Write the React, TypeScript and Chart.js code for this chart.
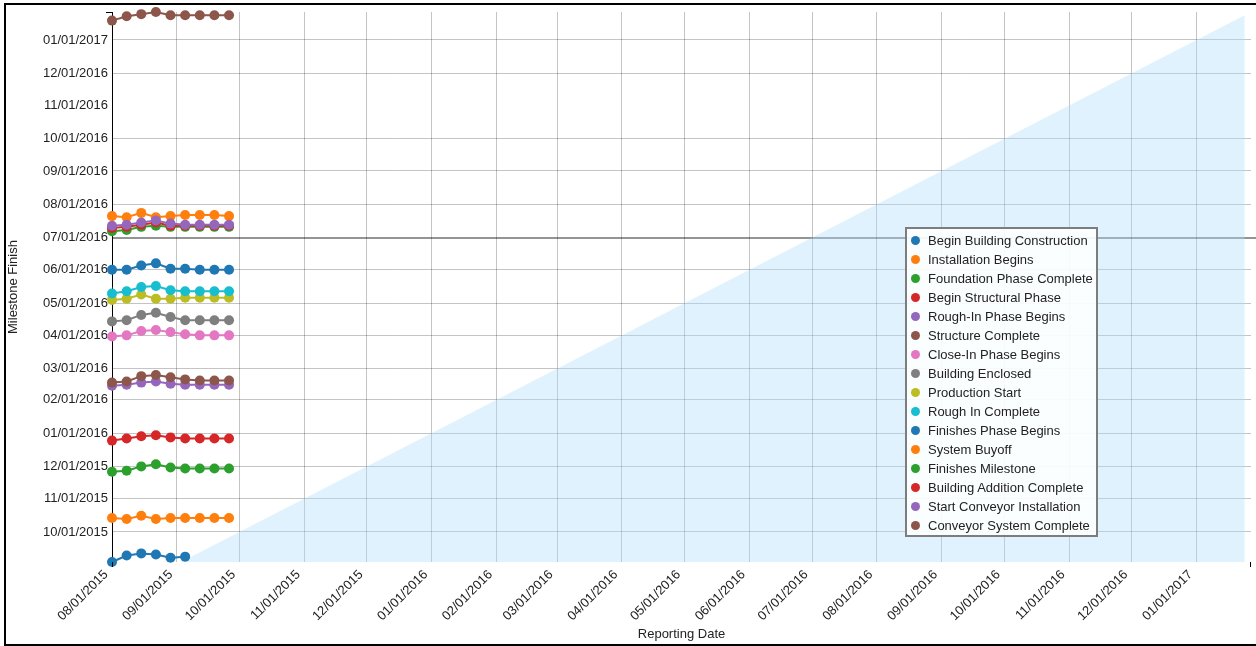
import React, { useEffect, useRef } from 'react';
import { Chart, registerables } from 'chart.js';

Chart.register(...registerables);

// ---------- data ----------
const reportingDates = [
  '2015-08-01', '2015-08-08', '2015-08-15', '2015-08-22', '2015-08-29',
  '2015-09-05', '2015-09-12', '2015-09-19', '2015-09-26',
];

const seriesNames = [
  'Begin Building Construction',
  'Installation Begins',
  'Foundation Phase Complete',
  'Begin Structural Phase',
  'Rough-In Phase Begins',
  'Structure Complete',
  'Close-In Phase Begins',
  'Building Enclosed',
  'Production Start',
  'Rough In Complete',
  'Finishes Phase Begins',
  'System Buyoff',
  'Finishes Milestone',
  'Building Addition Complete',
  'Start Conveyor Installation',
  'Conveyor System Complete',
];

const seriesColors = [
  '#1f77b4', '#ff7f0e', '#2ca02c', '#d62728', '#9467bd', '#8c564b', '#e377c2', '#7f7f7f',
  '#bcbd22', '#17becf', '#1f77b4', '#ff7f0e', '#2ca02c', '#d62728', '#9467bd', '#8c564b',
];

const beginBuildingConstruction = ['2015-09-03', '2015-09-09', '2015-09-11', '2015-09-10', '2015-09-07', '2015-09-08'];
const installationBegins = ['2015-10-14', '2015-10-13', '2015-10-16', '2015-10-13', '2015-10-14', '2015-10-14', '2015-10-14', '2015-10-14', '2015-10-14'];
const foundationPhaseComplete = ['2015-11-26', '2015-11-27', '2015-12-01', '2015-12-03', '2015-11-30', '2015-11-29', '2015-11-29', '2015-11-29', '2015-11-29'];
const beginStructuralPhase = ['2015-12-25', '2015-12-27', '2015-12-29', '2015-12-30', '2015-12-28', '2015-12-27', '2015-12-27', '2015-12-27', '2015-12-27'];
const roughInPhaseBegins = ['2016-02-14', '2016-02-15', '2016-02-17', '2016-02-18', '2016-02-16', '2016-02-15', '2016-02-15', '2016-02-15', '2016-02-15'];
const structureComplete = ['2016-02-17', '2016-02-18', '2016-02-23', '2016-02-24', '2016-02-22', '2016-02-20', '2016-02-19', '2016-02-19', '2016-02-19'];
const closeInPhaseBegins = ['2016-03-31', '2016-04-01', '2016-04-05', '2016-04-06', '2016-04-04', '2016-04-02', '2016-04-01', '2016-04-01', '2016-04-01'];
const buildingEnclosed = ['2016-04-14', '2016-04-15', '2016-04-20', '2016-04-22', '2016-04-18', '2016-04-15', '2016-04-15', '2016-04-15', '2016-04-15'];
const productionStart = ['2016-05-04', '2016-05-05', '2016-05-09', '2016-05-05', '2016-05-05', '2016-05-06', '2016-05-06', '2016-05-06', '2016-05-06'];
const roughInComplete = ['2016-05-10', '2016-05-12', '2016-05-16', '2016-05-17', '2016-05-13', '2016-05-12', '2016-05-12', '2016-05-12', '2016-05-12'];
const finishesPhaseBegins = ['2016-06-01', '2016-06-01', '2016-06-05', '2016-06-07', '2016-06-02', '2016-06-02', '2016-06-01', '2016-06-01', '2016-06-01'];
const systemBuyoff = ['2016-07-21', '2016-07-20', '2016-07-24', '2016-07-20', '2016-07-21', '2016-07-22', '2016-07-22', '2016-07-22', '2016-07-21'];
const finishesMilestone = ['2016-07-07', '2016-07-08', '2016-07-11', '2016-07-12', '2016-07-11', '2016-07-11', '2016-07-11', '2016-07-11', '2016-07-11'];
const buildingAdditionComplete = ['2016-07-10', '2016-07-11', '2016-07-13', '2016-07-15', '2016-07-12', '2016-07-12', '2016-07-12', '2016-07-12', '2016-07-12'];
const startConveyorInstallation = ['2016-07-12', '2016-07-13', '2016-07-15', '2016-07-17', '2016-07-14', '2016-07-13', '2016-07-13', '2016-07-13', '2016-07-13'];
const conveyorSystemComplete = ['2017-01-19', '2017-01-23', '2017-01-25', '2017-01-27', '2017-01-24', '2017-01-24', '2017-01-24', '2017-01-24', '2017-01-24'];

const seriesValues = [
  beginBuildingConstruction, installationBegins, foundationPhaseComplete, beginStructuralPhase,
  roughInPhaseBegins, structureComplete, closeInPhaseBegins, buildingEnclosed, productionStart,
  roughInComplete, finishesPhaseBegins, systemBuyoff, finishesMilestone, buildingAdditionComplete,
  startConveyorInstallation, conveyorSystemComplete,
];

// reporting date == milestone date reference line (shaded below)
const diagonalDates = ['2015-08-01', '2017-01-24'];

const monthTicks = [
  '2015-08-01', '2015-09-01', '2015-10-01', '2015-11-01', '2015-12-01', '2016-01-01',
  '2016-02-01', '2016-03-01', '2016-04-01', '2016-05-01', '2016-06-01', '2016-07-01',
  '2016-08-01', '2016-09-01', '2016-10-01', '2016-11-01', '2016-12-01', '2017-01-01',
];

const xMin = '2015-08-01';
const xMax = '2017-01-27';
const yMin = '2015-09-03';
const yMax = '2017-01-27';

// ---------- helpers ----------
const ms = (s: string) => Date.parse(s + 'T00:00:00Z');
const pad = (n: number) => (n < 10 ? '0' + n : '' + n);
const fmt = (v: number) => {
  const d = new Date(v);
  return pad(d.getUTCMonth() + 1) + '/' + pad(d.getUTCDate()) + '/' + d.getUTCFullYear();
};

const FONT = '"Liberation Sans", Arial, sans-serif';
const hiddenGridDate = '2016-11-01';
const darkGridDate = '2016-07-01';
const GRID = 'rgba(0,0,0,0.23)';
const DARK = 'rgba(0,0,0,0.42)';

export default function App() {
  const canvasRef = useRef<HTMLCanvasElement | null>(null);

  useEffect(() => {
    if (!canvasRef.current) return;
    const n = seriesNames.length;

    const yTickDates = monthTicks.filter((t) => ms(t) >= ms(yMin));
    const yGridColors = yTickDates.map((t) =>
      t === hiddenGridDate ? 'rgba(0,0,0,0)' : t === darkGridDate ? DARK : GRID
    );
    const yGridWidths = yTickDates.map((t) => (t === darkGridDate ? 2 : 1));

    const datasets: any[] = seriesNames.map((name, i) => ({
      type: 'line',
      label: name,
      data: seriesValues[i].map((v, j) => ({ x: ms(reportingDates[j]), y: ms(v) })),
      borderColor: seriesColors[i],
      backgroundColor: seriesColors[i],
      pointBackgroundColor: seriesColors[i],
      pointBorderColor: seriesColors[i],
      pointRadius: 5,
      pointBorderWidth: 0,
      borderWidth: 2,
      fill: false,
      tension: 0,
      clip: false,
      order: n - i,
    }));

    datasets.push({
      type: 'line',
      label: 'diagonal',
      data: diagonalDates.map((d) => ({ x: ms(d), y: ms(d) })),
      borderWidth: 0,
      borderColor: 'rgba(0,0,0,0)',
      backgroundColor: 'rgba(170,220,250,0.38)',
      pointRadius: 0,
      fill: 'start',
      order: n + 10,
    });

    const extras = {
      id: 'extras',
      afterDraw(chart: any) {
        const { ctx, chartArea } = chart;
        const ys = chart.scales.y;
        ctx.save();
        ctx.strokeStyle = '#000';
        ctx.lineWidth = 1;
        ctx.beginPath();
        // outer ticks
        ctx.moveTo(chartArea.left - 6, chartArea.top + 0.5);
        ctx.lineTo(chartArea.left, chartArea.top + 0.5);
        ctx.moveTo(chartArea.left + 0.5, chartArea.bottom);
        ctx.lineTo(chartArea.left + 0.5, chartArea.bottom + 5);
        ctx.moveTo(chartArea.right - 0.5, chartArea.bottom);
        ctx.lineTo(chartArea.right - 0.5, chartArea.bottom + 5);
        ctx.stroke();
        // darker July line running to the edge
        const yy = Math.round(ys.getPixelForValue(ms(darkGridDate)));
        ctx.strokeStyle = DARK;
        ctx.lineWidth = 2;
        ctx.beginPath();
        ctx.moveTo(chartArea.right, yy);
        ctx.lineTo(chart.width, yy);
        ctx.stroke();
        ctx.restore();
      },
    };

    const chart = new Chart(canvasRef.current, {
      type: 'line',
      data: { datasets },
      plugins: [extras],
      options: {
        animation: false,
        responsive: true,
        maintainAspectRatio: false,
        layout: { padding: { left: 6, top: 12, right: 3, bottom: 2 } },
        plugins: { legend: { display: false }, tooltip: { enabled: false } },
        font: { family: FONT },
        scales: {
          x: {
            type: 'linear',
            min: ms(xMin),
            max: ms(xMax),
            afterBuildTicks: (s: any) => {
              s.ticks = monthTicks.map((t) => ({ value: ms(t) }));
            },
            afterFit: (s: any) => {
              s.height = 82;
            },
            ticks: {
              autoSkip: false,
              minRotation: 45,
              maxRotation: 45,
              padding: 5,
              labelOffset: -6,
              color: '#222',
              font: { family: FONT, size: 13 },
              callback: (v: any) => fmt(Number(v)),
            },
            grid: { color: GRID, drawTicks: false, lineWidth: 1 },
            border: { display: false },
            title: {
              display: true,
              text: 'Reporting Date',
              color: '#222',
              font: { family: FONT, size: 13 },
              padding: { top: 2, bottom: 2 },
            },
          },
          y: {
            type: 'linear',
            min: ms(yMin),
            max: ms(yMax),
            afterBuildTicks: (s: any) => {
              s.ticks = yTickDates.map((t) => ({ value: ms(t) }));
            },
            afterFit: (s: any) => {
              s.width = 106;
            },
            ticks: {
              autoSkip: false,
              padding: 4,
              color: '#222',
              font: { family: FONT, size: 13 },
              callback: (v: any) => fmt(Number(v)),
            },
            grid: {
              drawTicks: false,
              color: yGridColors,
              lineWidth: yGridWidths,
            },
            border: { display: true, color: '#000', width: 1 },
            title: {
              display: true,
              text: 'Milestone Finish',
              color: '#222',
              font: { family: FONT, size: 13 },
              padding: 0,
            },
          },
        },
      } as any,
    });

    return () => chart.destroy();
  }, []);

  return (
    <div style={{ position: 'fixed', left: 0, top: 0, width: 1256, height: 646, overflow: 'hidden', background: '#fff' }}>
      <div style={{ position: 'absolute', left: 0, top: 0, width: 1256, height: 646 }}>
        <canvas ref={canvasRef} />
      </div>
      <div
        style={{
          position: 'absolute',
          left: 905,
          top: 227,
          width: 193,
          height: 310,
          boxSizing: 'border-box',
          border: '2px solid #7d7d7d',
          background: 'rgba(255,255,255,0.88)',
          paddingTop: 2,
          fontFamily: FONT,
          fontSize: 13,
          color: '#222',
        }}
      >
        {seriesNames.map((name, i) => (
          <div key={name} style={{ position: 'relative', height: 19, lineHeight: '19px', whiteSpace: 'nowrap' }}>
            <span
              style={{
                position: 'absolute',
                left: 4,
                top: 5,
                width: 9,
                height: 9,
                borderRadius: '50%',
                background: seriesColors[i],
              }}
            />
            <span style={{ position: 'absolute', left: 21, top: 0 }}>{name}</span>
          </div>
        ))}
      </div>
      <div
        style={{
          position: 'absolute',
          left: 4,
          top: 3,
          width: 1262,
          height: 643,
          boxSizing: 'border-box',
          border: '2px solid #000',
          pointerEvents: 'none',
        }}
      />
    </div>
  );
}
